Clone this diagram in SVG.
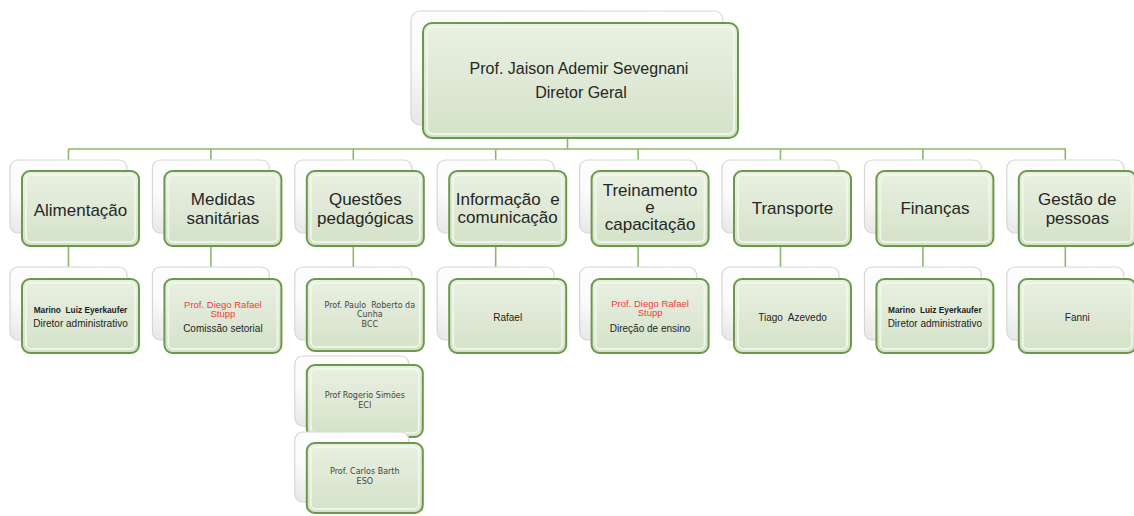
<svg xmlns="http://www.w3.org/2000/svg" width="1134" height="516" viewBox="0 0 1134 516">
<defs>
<linearGradient id="gf" x1="0" y1="0" x2="0" y2="1">
<stop offset="0" stop-color="#e9f1e2"/>
<stop offset="0.5" stop-color="#dfe9d6"/>
<stop offset="1" stop-color="#d3e2c7"/>
</linearGradient>
<linearGradient id="gb" x1="1" y1="0" x2="0" y2="1">
<stop offset="0" stop-color="#ffffff"/>
<stop offset="0.7" stop-color="#fbfbfb"/>
<stop offset="1" stop-color="#e6e6e6"/>
</linearGradient>
</defs>
<style>
.bk{fill:url(#gb);stroke:#d6d6d6;stroke-width:1.2}
.fr{fill:url(#gf);stroke:#6b984a;stroke-width:2}
.hl{fill:none;stroke:#f4f8f0;stroke-width:2;opacity:0.8}
.cn{stroke:#8bb86a;stroke-width:1.6;fill:none}
.t0{font-family:"Liberation Sans",Arial,sans-serif;font-size:16px;fill:#262626;text-anchor:middle}
.t1{font-family:"Liberation Sans",Arial,sans-serif;font-size:17px;fill:#262626;text-anchor:middle}
.t2{font-family:"Liberation Sans",Arial,sans-serif;font-size:10px;fill:#1e1e1e;text-anchor:middle}
.tb{font-family:"Liberation Sans",Arial,sans-serif;font-size:8.3px;font-weight:bold;fill:#1e1e1e;text-anchor:middle}
.tr{font-family:"Liberation Sans",Arial,sans-serif;font-size:9.5px;fill:#f03a3a;text-anchor:middle}
.tg{font-family:"DejaVu Sans",sans-serif;font-size:8px;fill:#444;text-anchor:middle}
</style>
<g id="connectors">
<path class="cn" d="M567.5 125V149M68.5 149H1066M68.5 149V160M210.9 149V160M353.3 149V160M495.7 149V160M638.1 149V160M780.5 149V160M922.9 149V160M1065.3 149V160"/>
<path class="cn" d="M68.5 246V267M210.9 246V267M353.3 246V267M495.7 246V267M638.1 246V267M780.5 246V267M922.9 246V267M1065.3 246V267"/>
</g>
<g id="n-top" transform="translate(411,11)">
<rect class="bk" x="0" y="0" width="312" height="114" rx="9"/>
<rect class="fr" x="12" y="12" width="315" height="115" rx="9"/>
<rect class="hl" x="16" y="16" width="307" height="107" rx="6"/>
<text class="t0" x="168" y="63">Prof. Jaison Ademir Sevegnani</text>
<text class="t0" x="170" y="87">Diretor Geral</text>
</g>
<g id="n-alimentacao" transform="translate(10,160)">
<rect class="bk" x="0" y="0" width="117" height="73" rx="8"/>
<rect class="fr" x="12" y="11" width="117" height="75" rx="8"/>
<rect class="hl" x="16" y="15" width="109" height="67" rx="5"/>
<text class="t1" x="70.5" y="56">Alimentação</text>
</g>
<g id="n-medidas" transform="translate(152.4,160)">
<rect class="bk" x="0" y="0" width="117" height="73" rx="8"/>
<rect class="fr" x="12" y="11" width="117" height="75" rx="8"/>
<rect class="hl" x="16" y="15" width="109" height="67" rx="5"/>
<text class="t1" x="70.5" y="45">Medidas</text>
<text class="t1" x="70.5" y="64">sanitárias</text>
</g>
<g id="n-questoes" transform="translate(294.8,160)">
<rect class="bk" x="0" y="0" width="117" height="73" rx="8"/>
<rect class="fr" x="12" y="11" width="117" height="75" rx="8"/>
<rect class="hl" x="16" y="15" width="109" height="67" rx="5"/>
<text class="t1" x="70.5" y="45">Questões</text>
<text class="t1" x="70.5" y="64">pedagógicas</text>
</g>
<g id="n-informacao" transform="translate(437.2,160)">
<rect class="bk" x="0" y="0" width="117" height="73" rx="8"/>
<rect class="fr" x="12" y="11" width="117" height="75" rx="8"/>
<rect class="hl" x="16" y="15" width="109" height="67" rx="5"/>
<text class="t1" x="70.5" y="45" xml:space="preserve">Informação  e</text>
<text class="t1" x="70.5" y="63">comunicação</text>
</g>
<g id="n-treinamento" transform="translate(579.6,160)">
<rect class="bk" x="0" y="0" width="117" height="73" rx="8"/>
<rect class="fr" x="12" y="11" width="117" height="75" rx="8"/>
<rect class="hl" x="16" y="15" width="109" height="67" rx="5"/>
<text class="t1" x="70.5" y="36">Treinamento</text>
<text class="t1" x="70.5" y="53">e</text>
<text class="t1" x="70.5" y="70">capacitação</text>
</g>
<g id="n-transporte" transform="translate(722,160)">
<rect class="bk" x="0" y="0" width="117" height="73" rx="8"/>
<rect class="fr" x="12" y="11" width="117" height="75" rx="8"/>
<rect class="hl" x="16" y="15" width="109" height="67" rx="5"/>
<text class="t1" x="70.5" y="54">Transporte</text>
</g>
<g id="n-financas" transform="translate(864.4,160)">
<rect class="bk" x="0" y="0" width="117" height="73" rx="8"/>
<rect class="fr" x="12" y="11" width="117" height="75" rx="8"/>
<rect class="hl" x="16" y="15" width="109" height="67" rx="5"/>
<text class="t1" x="70.5" y="54">Finanças</text>
</g>
<g id="n-gestao" transform="translate(1006.8,160)">
<rect class="bk" x="0" y="0" width="117" height="73" rx="8"/>
<rect class="fr" x="12" y="11" width="117" height="75" rx="8"/>
<rect class="hl" x="16" y="15" width="109" height="67" rx="5"/>
<text class="t1" x="70.5" y="45">Gestão de</text>
<text class="t1" x="70.5" y="64">pessoas</text>
</g>
<g id="n-marino1" transform="translate(10,267)">
<rect class="bk" x="0" y="0" width="117" height="73" rx="8"/>
<rect class="fr" x="12" y="12" width="117" height="74" rx="8"/>
<rect class="hl" x="16" y="16" width="109" height="66" rx="5"/>
<text class="tb" x="70.5" y="46" xml:space="preserve">Marino  Luiz Eyerkaufer</text>
<text class="t2" x="70.5" y="60">Diretor administrativo</text>
</g>
<g id="n-diego1" transform="translate(152.4,267)">
<rect class="bk" x="0" y="0" width="117" height="73" rx="8"/>
<rect class="fr" x="12" y="12" width="117" height="74" rx="8"/>
<rect class="hl" x="16" y="16" width="109" height="66" rx="5"/>
<text class="tr" x="70.5" y="41">Prof. Diego Rafael</text>
<text class="tr" x="70.5" y="50">Stupp</text>
<text class="t2" x="70.5" y="65">Comissão setorial</text>
</g>
<g id="n-paulo" transform="translate(294.8,267)">
<rect class="bk" x="0" y="0" width="117" height="73" rx="8"/>
<rect class="fr" x="12" y="12" width="117" height="72" rx="8"/>
<rect class="hl" x="16" y="16" width="109" height="64" rx="5"/>
<text class="tg" x="75" y="41" xml:space="preserve">Prof. Paulo  Roberto da</text>
<text class="tg" x="75" y="50">Cunha</text>
<text class="tg" x="75" y="60">BCC</text>
</g>
<g id="n-rogerio" transform="translate(294.8,356)">
<rect class="bk" x="0" y="0" width="114" height="70" rx="8"/>
<rect class="fr" x="12" y="9" width="116" height="72" rx="8"/>
<rect class="hl" x="16" y="13" width="108" height="64" rx="5"/>
<text class="tg" x="70" y="42">Prof Rogerio Simões</text>
<text class="tg" x="70" y="52">ECI</text>
</g>
<g id="n-carlos" transform="translate(294.8,432)">
<rect class="bk" x="0" y="0" width="114" height="70" rx="8"/>
<rect class="fr" x="12" y="11" width="116" height="70" rx="8"/>
<rect class="hl" x="16" y="15" width="108" height="62" rx="5"/>
<text class="tg" x="70" y="42">Prof. Carlos Barth</text>
<text class="tg" x="70" y="52">ESO</text>
</g>
<g id="n-rafael" transform="translate(437.2,267)">
<rect class="bk" x="0" y="0" width="117" height="73" rx="8"/>
<rect class="fr" x="12" y="12" width="117" height="74" rx="8"/>
<rect class="hl" x="16" y="16" width="109" height="66" rx="5"/>
<text class="t2" x="70.5" y="54">Rafael</text>
</g>
<g id="n-diego2" transform="translate(579.6,267)">
<rect class="bk" x="0" y="0" width="117" height="73" rx="8"/>
<rect class="fr" x="12" y="12" width="117" height="74" rx="8"/>
<rect class="hl" x="16" y="16" width="109" height="66" rx="5"/>
<text class="tr" x="70.5" y="40">Prof. Diego Rafael</text>
<text class="tr" x="70.5" y="49">Stupp</text>
<text class="t2" x="70.5" y="65">Direção de ensino</text>
</g>
<g id="n-tiago" transform="translate(722,267)">
<rect class="bk" x="0" y="0" width="117" height="73" rx="8"/>
<rect class="fr" x="12" y="12" width="117" height="74" rx="8"/>
<rect class="hl" x="16" y="16" width="109" height="66" rx="5"/>
<text class="t2" x="70.5" y="54" xml:space="preserve">Tiago  Azevedo</text>
</g>
<g id="n-marino2" transform="translate(864.4,267)">
<rect class="bk" x="0" y="0" width="117" height="73" rx="8"/>
<rect class="fr" x="12" y="12" width="117" height="74" rx="8"/>
<rect class="hl" x="16" y="16" width="109" height="66" rx="5"/>
<text class="tb" x="70.5" y="46" xml:space="preserve">Marino  Luiz Eyerkaufer</text>
<text class="t2" x="70.5" y="60">Diretor administrativo</text>
</g>
<g id="n-fanni" transform="translate(1006.8,267)">
<rect class="bk" x="0" y="0" width="117" height="73" rx="8"/>
<rect class="fr" x="12" y="12" width="117" height="74" rx="8"/>
<rect class="hl" x="16" y="16" width="109" height="66" rx="5"/>
<text class="t2" x="70.5" y="54">Fanni</text>
</g>
</svg>
